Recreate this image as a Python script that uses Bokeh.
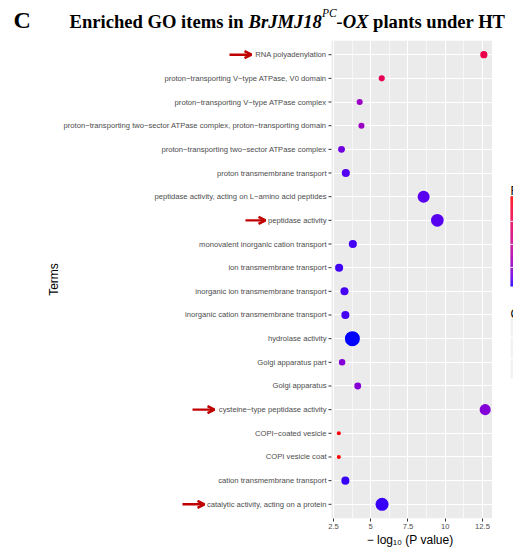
import numpy as np
from bokeh.plotting import figure
from bokeh.layouts import column, row
from bokeh.models import (ColumnDataSource, FactorRange, Range1d, LinearColorMapper,
                          Arrow, OpenHead, FixedTicker, BoxAnnotation)
from bokeh.core.properties import value
from bokeh.embed import file_html
from bokeh.resources import INLINE

# ---- data -------------------------------------------------------------
terms = [
    "RNA polyadenylation",
    "proton\u2212transporting V\u2212type ATPase, V0 domain",
    "proton\u2212transporting V\u2212type ATPase complex",
    "proton\u2212transporting two\u2212sector ATPase complex, proton\u2212transporting domain",
    "proton\u2212transporting two\u2212sector ATPase complex",
    "proton transmembrane transport",
    "peptidase activity, acting on L\u2212amino acid peptides",
    "peptidase activity",
    "monovalent inorganic cation transport",
    "ion transmembrane transport",
    "inorganic ion transmembrane transport",
    "inorganic cation transmembrane transport",
    "hydrolase activity",
    "Golgi apparatus part",
    "Golgi apparatus",
    "cysteine\u2212type peptidase activity",
    "COPI\u2212coated vesicle",
    "COPI vesicle coat",
    "cation transmembrane transport",
    "catalytic activity, acting on a protein",
]
neg_log10_p = [12.59, 5.74, 4.26, 4.38, 3.04, 3.33, 8.55, 9.47, 3.80, 2.88,
               3.24, 3.30, 3.77, 3.08, 4.13, 12.68, 2.86, 2.86, 3.30, 5.76]
gene_count = [7, 4, 4, 4, 6, 10, 33, 38, 10, 10,
              10, 10, 60, 5, 6, 26, 2, 2, 10, 41]
rich_factor = [0.421, 0.399, 0.213, 0.213, 0.165, 0.140, 0.146, 0.143, 0.133, 0.131,
               0.134, 0.134, 0.117, 0.184, 0.187, 0.182, 0.508, 0.508, 0.129, 0.128]
highlighted = ["RNA polyadenylation", "peptidase activity",
               "cysteine\u2212type peptidase activity",
               "catalytic activity, acting on a protein"]
x_ticks = [2.5, 5.0, 7.5, 10.0, 12.5]
rich_breaks = [0.2, 0.3, 0.4]

# ---- colour scale: blue -> red interpolated in CIE Lab ----------------
M = np.array([[0.4124564, 0.3575761, 0.1804375],
              [0.2126729, 0.7151522, 0.0721750],
              [0.0193339, 0.1191920, 0.9503041]])
WP = np.array([0.95047, 1.0, 1.08883])


def hex_to_lab(h):
    c = np.array([int(h[i:i + 2], 16) for i in (1, 3, 5)]) / 255.0
    c = np.where(c <= 0.04045, c / 12.92, ((c + 0.055) / 1.055) ** 2.4)
    t = (M @ c) / WP
    f = np.where(t > (6 / 29) ** 3, np.cbrt(t), t / (3 * (6 / 29) ** 2) + 4 / 29)
    return np.array([116 * f[1] - 16, 500 * (f[0] - f[1]), 200 * (f[1] - f[2])])


def lab_to_hex(lab):
    L, a, b = lab
    fy = (L + 16) / 116
    f = np.array([fy + a / 500, fy, fy - b / 200])
    t = np.where(f > 6 / 29, f ** 3, 3 * (6 / 29) ** 2 * (f - 4 / 29))
    c = np.linalg.solve(M, t * WP)
    c = np.clip(c, 0, 1)
    c = np.where(c <= 0.0031308, 12.92 * c, 1.055 * c ** (1 / 2.4) - 0.055)
    return "#%02x%02x%02x" % tuple(int(round(v * 255)) for v in np.clip(c, 0, 1))


lo_lab, hi_lab = hex_to_lab("#0000FF"), hex_to_lab("#FF0000")
palette = [lab_to_hex(lo_lab + (hi_lab - lo_lab) * s) for s in np.linspace(0, 1, 256)]
rich_lo, rich_hi = min(rich_factor), max(rich_factor)
mapper = LinearColorMapper(palette=palette, low=rich_lo, high=rich_hi)

# ---- point size: area proportional to gene count ----------------------
D_MIN, D_MAX = 4.0, 15.0
cmin, cmax = min(gene_count), max(gene_count)


def diameter(n):
    return D_MIN + (D_MAX - D_MIN) * np.sqrt((n - cmin) / (cmax - cmin))


source = ColumnDataSource(dict(
    term=terms, p=neg_log10_p, count=gene_count, rich=rich_factor,
    size=[diameter(n) for n in gene_count],
))

# ---- layout sizes (pixels) ------------------------------------------
W, H = 513, 550
TITLE_H = 40
LABEL_W = 327           # strip holding the term labels, arrows and "Terms"
TICK_W = 4              # white strip left of the panel that carries the y tick marks
PANEL_W = 161
LEGEND_W = W - LABEL_W - TICK_W - PANEL_W
BODY_H = H - TITLE_H
BOTTOM = 32
FRAME_H = BODY_H - BOTTOM

y_range = FactorRange(factors=terms[::-1], range_padding=0.1, range_padding_units="absolute")
n_terms = len(terms)

# ---- title strip ----------------------------------------------------
title_fig = figure(width=W, height=TITLE_H, output_backend="svg", toolbar_location=None,
                   x_range=Range1d(0, W), y_range=Range1d(TITLE_H, 0),
                   min_border=0, outline_line_color=None)
title_fig.axis.visible = False
title_fig.grid.visible = False
title_parts = [  # text, left x, baseline y, size, style
    ("C", 13, 19.5, "24px", "bold"),
    ("Enriched GO items in ", 69, 20.5, "18.6px", "bold"),
    ("BrJMJ18", 248, 20.5, "18.6px", "bold italic"),
    ("PC", 321.5, 12.5, "11.5px", "italic"),
    ("-OX", 336, 20.5, "18.6px", "bold italic"),
    ("plants under HT", 372.6, 20.5, "18.6px", "bold"),
]
for txt, x, y, fs, style in title_parts:
    title_fig.text(x=[x], y=[y], text=[txt], text_font=value("Liberation Serif"),
                   text_font_size=value(fs), text_font_style=style, text_color="black",
                   text_align="left", text_baseline="alphabetic")

# ---- term labels with highlight arrows ---------------------------------
label_fig = figure(width=LABEL_W, height=BODY_H, output_backend="svg", toolbar_location=None,
                   x_range=Range1d(0, LABEL_W), y_range=y_range,
                   min_border_left=0, min_border_right=0, min_border_top=0,
                   min_border_bottom=BOTTOM, outline_line_color=None)
label_fig.axis.visible = False
label_fig.grid.visible = False
label_fig.text(x=LABEL_W - 1, y="term", text="term", source=source,
               text_font=value("Liberation Sans"), text_font_size=value("7.65px"),
               text_color="#4D4D4D", text_align="right", text_baseline="middle")
label_fig.text(x=[53], y=[n_terms / 2], text=["Terms"], angle=np.pi / 2,
               text_font=value("Liberation Sans"), text_font_size=value("12px"),
               text_color="black", text_align="center", text_baseline="middle")

arrow_x = {  # shaft start / tip, just left of each label
    "RNA polyadenylation": (229, 251),
    "peptidase activity": (245, 265),
    "cysteine\u2212type peptidase activity": (192, 214),
    "catalytic activity, acting on a protein": (182, 204),
}
RED = "#C00000"
for t in highlighted:
    yc = (n_terms - 1 - terms.index(t)) + 0.5
    x0, x1 = arrow_x[t]
    label_fig.add_layout(Arrow(x_start=x0, y_start=yc, x_end=x1, y_end=yc,
                               line_color=RED, line_width=2.4,
                               end=OpenHead(size=7, line_color=RED, line_width=2.4)))

# ---- main dot plot ------------------------------------------------------
pad = 0.05 * (max(neg_log10_p) - min(neg_log10_p))
x_lo, x_hi = min(neg_log10_p) - pad, max(neg_log10_p) + pad
px_per_unit = PANEL_W / (x_hi - x_lo)
x_tick_strip = x_lo - TICK_W / px_per_unit      # left edge of the tick strip
x_tick_start = x_lo - 3 / px_per_unit           # tick marks are 3 px long

p = figure(width=TICK_W + PANEL_W, height=BODY_H, output_backend="svg", toolbar_location=None,
           x_range=Range1d(x_tick_strip, x_hi), y_range=y_range,
           min_border_left=0, min_border_right=0, min_border_top=0,
           min_border_bottom=BOTTOM)
p.background_fill_color = "white"
p.border_fill_color = "white"
p.outline_line_color = None
p.yaxis.visible = False

# grey panel behind the grid
p.add_layout(BoxAnnotation(left=x_lo, fill_color="#EBEBEB", fill_alpha=1,
                           line_color=None, level="image"))

p.xaxis.ticker = FixedTicker(ticks=x_ticks,
                             minor_ticks=[(a + b) / 2 for a, b in zip(x_ticks[:-1], x_ticks[1:])])
p.xgrid.grid_line_color = "white"
p.xgrid.grid_line_width = 1.1
p.xgrid.minor_grid_line_color = "white"
p.xgrid.minor_grid_line_width = 0.6
p.ygrid.grid_line_color = "white"
p.ygrid.grid_line_width = 1.1

ax = p.xaxis[0]
ax.axis_line_color = None
ax.major_tick_line_color = "#333333"
ax.major_tick_out = 3
ax.major_tick_in = 0
ax.minor_tick_out = 0
ax.minor_tick_in = 0
ax.major_label_text_font = "Liberation Sans"
ax.major_label_text_font_size = "7.65px"
ax.major_label_text_color = "#4D4D4D"
ax.major_label_standoff = 2
ax.axis_label = "\u2212 log\u2081\u2080 (P value)"
ax.axis_label_standoff = 1
ax.axis_label_text_font = "Liberation Sans"
ax.axis_label_text_font_size = "12px"
ax.axis_label_text_font_style = "normal"
ax.axis_label_text_color = "black"

# y tick marks, one per term
p.segment(x0=x_tick_start, x1=x_lo, y0="term", y1="term", source=source,
          line_color="#333333", line_width=1)

p.scatter(x="p", y="term", size="size", source=source, line_color=None,
          fill_color={"field": "rich", "transform": mapper})

# ---- legends: only their left edge falls inside the page ---------------
# coordinates in this strip are pixels, y measured up from the panel bottom
legend_fig = figure(width=LEGEND_W, height=BODY_H, output_backend="svg", toolbar_location=None,
                    x_range=Range1d(0, LEGEND_W), y_range=Range1d(0, FRAME_H),
                    min_border=0, outline_line_color=None)
legend_fig.axis.visible = False
legend_fig.grid.visible = False
LX = LEGEND_W - 3                     # left edge of the legend column

# colour bar for the rich factor
BAR_BOTTOM, BAR_H = 232, 90
steps = np.linspace(rich_lo, rich_hi, BAR_H + 1)
bar_y = BAR_BOTTOM + (steps - rich_lo) / (rich_hi - rich_lo) * BAR_H
bar_src = ColumnDataSource(dict(bottom=bar_y[:-1], top=bar_y[1:] + 0.3,
                                v=(steps[:-1] + steps[1:]) / 2))
legend_fig.quad(left=LX, right=LX + 17, bottom="bottom", top="top", source=bar_src,
                line_color=None, fill_color={"field": "v", "transform": mapper})
tick_y = [BAR_BOTTOM + (b - rich_lo) / (rich_hi - rich_lo) * BAR_H for b in rich_breaks]
legend_fig.segment(x0=LX, x1=LX + 3.4, y0=tick_y, y1=tick_y, line_color="white", line_width=1)
legend_fig.text(x=[LX], y=[BAR_BOTTOM + BAR_H + 6], text=["Rich factor"],
                text_font=value("Liberation Sans"), text_font_size=value("12px"),
                text_color="black", text_align="left", text_baseline="alphabetic")

# size legend for the gene count: grey key boxes under the title
key_edges = [140, 160, 182, 202]
legend_fig.quad(left=LX, right=LX + 20, bottom=key_edges[:-1],
                top=[e - 1 for e in key_edges[1:]], fill_color="#F2F2F2", line_color=None)
legend_fig.text(x=[LX], y=[key_edges[-1] + 3], text=["Count"],
                text_font=value("Liberation Sans"), text_font_size=value("12px"),
                text_color="black", text_align="left", text_baseline="alphabetic")

layout = column(title_fig, row(label_fig, p, legend_fig, spacing=0), spacing=0)
open("out.html", "w").write(file_html(layout, INLINE))
